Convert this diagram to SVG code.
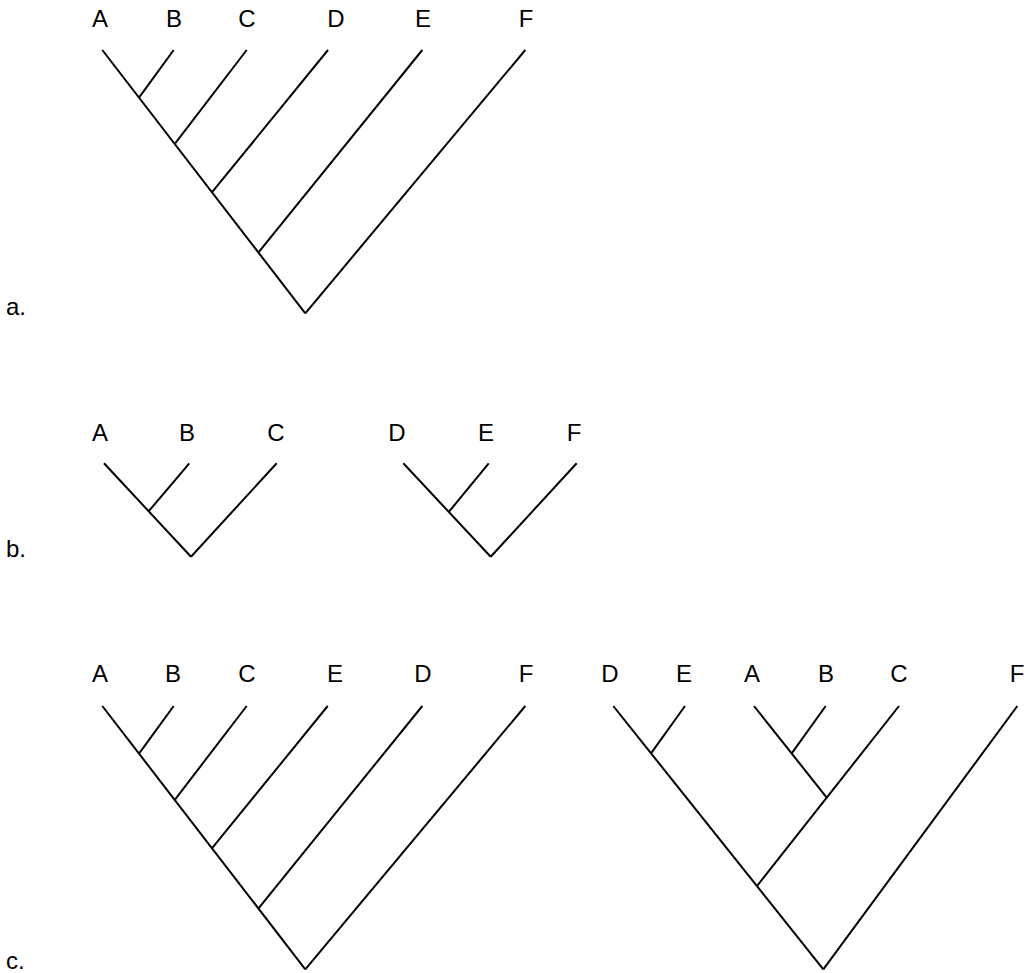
<svg xmlns="http://www.w3.org/2000/svg" width="1028" height="973" viewBox="0 0 1028 973">
<style>
text{font-family:"Liberation Sans",Arial,sans-serif;font-size:24px;fill:#000}
.t{text-anchor:middle}
line{stroke:#000;stroke-width:2;stroke-linecap:butt}
</style>
<rect width="1028" height="973" fill="#fff"/>
<g id="panel-labels">
<text x="6" y="315">a.</text>
<text x="6" y="557">b.</text>
<text x="6" y="969">c.</text>
</g>
<g id="nodes-a">
<g id="a-A"><text class="t" x="100" y="27">A</text></g>
<g id="a-B"><text class="t" x="174" y="27">B</text></g>
<g id="a-C"><text class="t" x="247" y="27">C</text></g>
<g id="a-D"><text class="t" x="336" y="27">D</text></g>
<g id="a-E"><text class="t" x="423" y="27">E</text></g>
<g id="a-F"><text class="t" x="526" y="27">F</text></g>
</g>
<g id="nodes-b">
<g id="b-A"><text class="t" x="100" y="441">A</text></g>
<g id="b-B"><text class="t" x="187" y="441">B</text></g>
<g id="b-C"><text class="t" x="276" y="441">C</text></g>
<g id="b-D"><text class="t" x="397" y="441">D</text></g>
<g id="b-E"><text class="t" x="486" y="441">E</text></g>
<g id="b-F"><text class="t" x="574" y="441">F</text></g>
</g>
<g id="nodes-c1">
<g id="c1-A"><text class="t" x="100" y="682">A</text></g>
<g id="c1-B"><text class="t" x="173" y="682">B</text></g>
<g id="c1-C"><text class="t" x="247" y="682">C</text></g>
<g id="c1-E"><text class="t" x="335" y="682">E</text></g>
<g id="c1-D"><text class="t" x="423" y="682">D</text></g>
<g id="c1-F"><text class="t" x="526" y="682">F</text></g>
</g>
<g id="nodes-c2">
<g id="c2-D"><text class="t" x="610" y="682">D</text></g>
<g id="c2-E"><text class="t" x="684" y="682">E</text></g>
<g id="c2-A"><text class="t" x="752" y="682">A</text></g>
<g id="c2-B"><text class="t" x="826" y="682">B</text></g>
<g id="c2-C"><text class="t" x="899" y="682">C</text></g>
<g id="c2-F"><text class="t" x="1017" y="682">F</text></g>
</g>
<g id="connectors">
<!-- a -->
<line x1="102.3" y1="50" x2="305.3" y2="313.3"/>
<line x1="525.3" y1="50" x2="305.3" y2="313.3"/>
<line x1="173.7" y1="50" x2="139" y2="97.7"/>
<line x1="246.7" y1="50" x2="175.2" y2="143.3"/>
<line x1="328" y1="50" x2="212.5" y2="191.7"/>
<line x1="422.3" y1="50" x2="258.5" y2="252.3"/>
<!-- b -->
<line x1="104" y1="463.3" x2="191" y2="556.7"/>
<line x1="276.7" y1="463.3" x2="191" y2="556.7"/>
<line x1="189.3" y1="463.3" x2="148.3" y2="511.7"/>
<line x1="403.3" y1="463.3" x2="490.7" y2="556.7"/>
<line x1="576.7" y1="463.3" x2="490.7" y2="556.7"/>
<line x1="488.7" y1="463.3" x2="449" y2="511.7"/>
<!-- c left -->
<line x1="102.3" y1="706" x2="305.3" y2="969.3"/>
<line x1="525.3" y1="706" x2="305.3" y2="969.3"/>
<line x1="173.7" y1="706" x2="139" y2="753.7"/>
<line x1="246.7" y1="706" x2="175.2" y2="799.3"/>
<line x1="327.7" y1="706" x2="212.5" y2="847.7"/>
<line x1="422.3" y1="706" x2="258.5" y2="908.3"/>
<!-- c right -->
<line x1="613.3" y1="706" x2="823.3" y2="969.3"/>
<line x1="1017.3" y1="706" x2="823.3" y2="969.3"/>
<line x1="685" y1="706" x2="651" y2="753.3"/>
<line x1="899" y1="706" x2="757" y2="886"/>
<line x1="754" y1="706" x2="827.3" y2="798.3"/>
<line x1="825.7" y1="706" x2="791.7" y2="753.3"/>
</g>
</svg>
